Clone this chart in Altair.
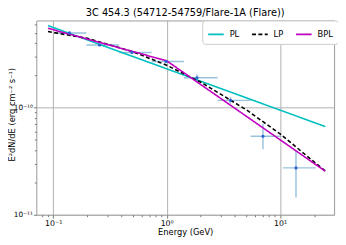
import altair as alt
import pandas as pd

# ---- data ----
energy = [0.139, 0.256, 0.494, 0.989, 1.85, 3.65, 7.06, 13.8]
e_lo = [0.1014, 0.196, 0.380, 0.735, 1.42, 2.81, 5.50, 10.6]
e_hi = [0.196, 0.380, 0.735, 1.42, 2.81, 5.50, 10.2, 20.6]
flux = [4.99e-10, 3.85e-10, 3.28e-10, 2.70e-10, 1.90e-10, 1.17e-10, 5.40e-11, 2.74e-11]
flux_lo = [4.85e-10, 3.74e-10, 3.18e-10, 2.60e-10, 1.75e-10, 1.09e-10, 4.08e-11, 1.45e-11]
flux_hi = [5.13e-10, 3.96e-10, 3.38e-10, 2.80e-10, 2.04e-10, 1.25e-10, 7.05e-11, 3.94e-11]

pl_e = [0.09, 25.0]
pl_f = [5.84e-10, 6.66e-11]
lp_e = [0.09, 0.2, 0.5, 1.0, 2.0, 5.0, 10.0, 25.0]
lp_f = [5.14e-10, 4.44e-10, 3.34e-10, 2.49e-10, 1.73e-10, 9.6e-11, 5.69e-11, 2.56e-11]
bpl_e = [0.09, 1.0, 25.0]
bpl_f = [5.51e-10, 2.74e-10, 2.55e-11]

models = ["PL", "LP", "BPL"]
model_colors = ["#00BFBF", "#000000", "#BF00BF"]
model_dash = [[1, 0], [4, 2.5], [1, 0]]

x_major = [0.1, 1, 10]
x_major_labels = ["10⁻¹", "10⁰", "10¹"]
x_minor = [m * 10.0 ** k for k in (-2, -1, 0, 1) for m in range(2, 10)]
y_major = [1e-11, 1e-10]
y_major_labels = ["10⁻¹¹", "10⁻¹⁰"]
y_minor = [m * 10.0 ** k for k in (-11, -10) for m in range(2, 10)]

x_domain = [0.071, 29.9]
y_domain = [1e-11, 6.52e-10]

title_text = "3C 454.3 (54712-54759/Flare-1A (Flare))"
x_title = "Energy (GeV)"
y_title = "E²dN/dE (erg cm⁻² s⁻¹)"

# ---- tables ----
pts = pd.DataFrame({"energy": energy, "e_lo": e_lo, "e_hi": e_hi,
                    "flux": flux, "flux_lo": flux_lo, "flux_hi": flux_hi})
rows = []
for name, es, fs in (("PL", pl_e, pl_f), ("LP", lp_e, lp_f), ("BPL", bpl_e, bpl_f)):
    for i, (e, f) in enumerate(zip(es, fs)):
        rows.append({"model": name, "energy": e, "flux": f, "order": i})
lines = pd.DataFrame(rows)


def label_expr(vals, labs):
    parts = [f"abs(datum.value/{v}-1)<1e-6 ? '{l}'" for v, l in zip(vals, labs)]
    return " : ".join(parts) + " : ''"


def major_test(vals):
    return " || ".join(f"abs(datum.value/{v}-1)<1e-6" for v in vals)


font = "DejaVu Sans"

x_axis = alt.Axis(
    values=sorted(x_major + [v for v in x_minor if x_domain[0] <= v <= x_domain[1]]),
    labelExpr=label_expr(x_major, x_major_labels),
    tickSize={"condition": {"test": major_test(x_major), "value": 3.5}, "value": 2},
    gridOpacity={"condition": {"test": major_test(x_major), "value": 1}, "value": 0},
    title=x_title, grid=True, domain=False,
    labelFont=font, labelFontSize=8, labelColor="#000", labelPadding=1,
    titleFont=font, titleFontSize=8.5, titleFontWeight="normal", titleColor="#000",
    titlePadding=1, tickColor="#777", gridColor="#b0b0b0", labelFlush=False,
)
y_axis = alt.Axis(
    values=sorted(y_major + [v for v in y_minor if y_domain[0] <= v <= y_domain[1]]),
    labelExpr=label_expr(y_major, y_major_labels),
    tickSize={"condition": {"test": major_test(y_major), "value": 3}, "value": 2},
    gridOpacity={"condition": {"test": major_test(y_major), "value": 1}, "value": 0},
    title=y_title, grid=True, domain=False,
    labelFont=font, labelFontSize=7.5, labelColor="#000", labelPadding=1,
    titleFont=font, titleFontSize=8.5, titleFontWeight="normal", titleColor="#000",
    titleX=-25.5, titleY=96, titleAngle=270, titleAlign="center", titleBaseline="middle",
    tickColor="#777", gridColor="#b0b0b0", labelFlush=False,
)

xs = alt.Scale(type="log", domain=x_domain, nice=False)
ys = alt.Scale(type="log", domain=y_domain, nice=False)

hbars = alt.Chart(pts).mark_rule(color="#1f77b4", opacity=0.45, strokeWidth=1.5, clip=True).encode(
    x=alt.X("e_lo:Q", scale=xs, axis=x_axis), x2="e_hi:Q",
    y=alt.Y("flux:Q", scale=ys, axis=y_axis),
)
vbars = alt.Chart(pts).mark_rule(color="#1f77b4", opacity=0.45, strokeWidth=1.5, clip=True).encode(
    x=alt.X("energy:Q", scale=xs), y=alt.Y("flux_lo:Q", scale=ys), y2="flux_hi:Q",
)

leg = alt.Legend(
    title=None, orient="none", legendX=170, legendY=0, direction="horizontal",
    columns=3, symbolType="stroke", symbolSize=256, symbolStrokeWidth=1.6,
    labelFont=font, labelFontSize=8.5, labelColor="#000", labelOffset=5,
    columnPadding=9, padding=5, fillColor="white", strokeColor="#cccccc",
    cornerRadius=3,
)
model_lines = alt.Chart(lines).mark_line(strokeWidth=1.6, clip=True).encode(
    x=alt.X("energy:Q", scale=xs), y=alt.Y("flux:Q", scale=ys),
    color=alt.Color("model:N", scale=alt.Scale(domain=models, range=model_colors),
                    sort=models, legend=leg),
    strokeDash=alt.StrokeDash("model:N", scale=alt.Scale(domain=models, range=model_dash),
                              sort=models, legend=leg),
    order="order:Q",
)
markers = alt.Chart(pts).mark_circle(color="#2a62d6", size=10, opacity=1, clip=True).encode(
    x=alt.X("energy:Q", scale=xs), y=alt.Y("flux:Q", scale=ys),
)

chart = alt.layer(hbars, vbars, model_lines, markers).properties(
    width=305, height=199,
    title=alt.TitleParams(title_text, font=font, fontSize=10, fontWeight="normal",
                          color="#000", anchor="middle", offset=2),
    autosize=alt.AutoSizeParams(type="none"),
    padding={"left": 29, "top": 10, "right": 4, "bottom": 20},
).configure_view(stroke="#999999", strokeWidth=1)

chart.save("out.html", embed_options={"renderer": "svg", "actions": False})
